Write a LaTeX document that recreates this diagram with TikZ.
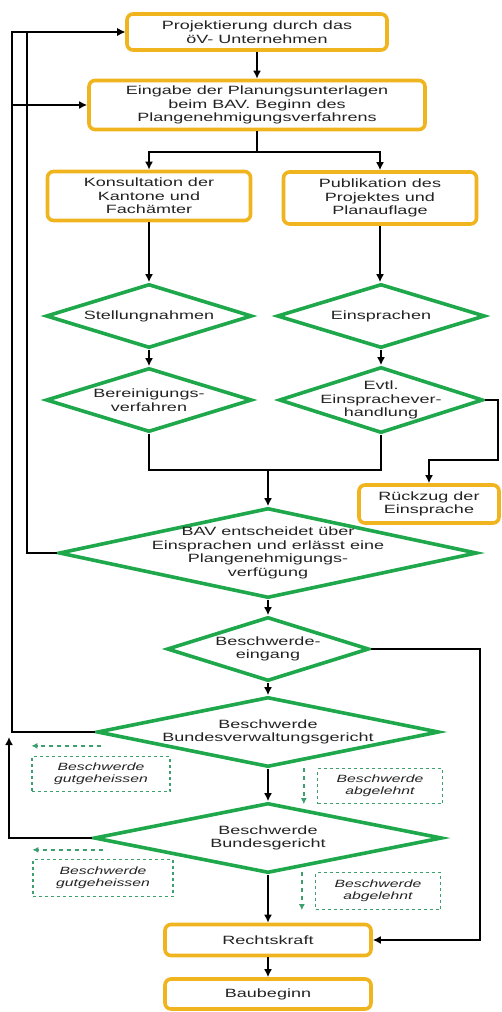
\documentclass[tikz,border=0pt]{standalone}
\usepackage{fontspec}
\setmainfont{Liberation Sans}[FakeStretch=1.5]
\usetikzlibrary{positioning,shapes,arrows,arrows.meta}
\definecolor{boxorange}{RGB}{240,180,30}
\definecolor{decgreen}{RGB}{30,168,75}
\definecolor{notegreen}{RGB}{60,160,110}
\definecolor{txtgray}{RGB}{35,35,35}
\tikzset{
  basic/.style    = {text=txtgray, align=center, font=\fontsize{12}{13.5}\selectfont},
  process/.style  = {basic, rectangle, draw=boxorange, line width=3.6pt,
                     rounded corners=6pt, fill=white},
  decision/.style = {diamond, draw=decgreen, line width=3.6pt, inner sep=0pt},
  dtext/.style    = {basic},
  note/.style     = {basic, draw=notegreen, dash pattern=on 3pt off 3pt,
                     line width=1.3pt, inner sep=0pt,
                     font=\fontsize{10.5}{12.5}\selectfont\itshape},
  line/.style     = {line width=2.2pt},
  flow/.style     = {line, ->},
  back/.style     = {-{Latex[length=6pt,width=6pt]}, notegreen, line width=1.5pt,
                     dash pattern=on 4pt off 4pt}
}
\begin{document}
\begin{tikzpicture}[x=1pt, y=-1pt, >={Latex[length=8pt,width=8pt]}]
\useasboundingbox (0,0) rectangle (501,1012);

% the planning part, boxes
\node[process, minimum width=260, minimum height=36] (proj) at (257,32)
  {Projektierung durch das\\öV- Unternehmen};
\node[process, minimum width=336, minimum height=49] (eing) at (257,105)
  {Eingabe der Planungsunterlagen\\beim BAV. Beginn des\\Plangenehmigungsverfahrens};
\node[process, minimum width=203, minimum height=49] (kons) at (149,196)
  {Konsultation der\\Kantone und\\Fachämter};
\node[process, minimum width=193, minimum height=52] (publ) at (380,198)
  {Publikation des\\Projektes und\\Planauflage};

% the two columns of decisions
\node[decision, minimum width=206, minimum height=64,
  label={[dtext]center:Stellungnahmen}] (stell) at (149,316) {};
\node[decision, minimum width=208, minimum height=64,
  label={[dtext]center:Einsprachen}] (einspr) at (381,316) {};
\node[decision, minimum width=206, minimum height=64,
  label={[dtext]center:{Bereinigungs-\\verfahren}}] (berein) at (149,400) {};
\node[decision, minimum width=204, minimum height=66,
  label={[dtext]center:{Evtl.\\Einsprachever-\\handlung}}] (evtl) at (381,400) {};
\node[process, minimum width=140, minimum height=38] (rueck) at (429,504)
  {Rückzug der\\Einsprache};

% decision of the BAV and the appeals
\node[decision, minimum width=418, minimum height=90,
  label={[dtext]center:{BAV entscheidet über\\Einsprachen und erlässt eine\\Plangenehmigungs-\\verfügung}}] (bav) at (268,553) {};
\node[decision, minimum width=202, minimum height=64,
  label={[dtext]center:{Beschwerde-\\eingang}}] (eingang) at (268,649) {};
\node[decision, minimum width=342, minimum height=70,
  label={[dtext]center:{Beschwerde\\Bundesverwaltungsgericht}}] (bvg) at (268,732) {};
\node[decision, minimum width=348, minimum height=70,
  label={[dtext]center:{Beschwerde\\Bundesgericht}}] (bg) at (268,838) {};
\node[process, minimum width=206, minimum height=31] (recht) at (268,940) {Rechtskraft};
\node[process, minimum width=206, minimum height=30] (bau) at (268,994) {Baubeginn};

% outcomes of the appeals
\node[note, minimum width=138, minimum height=35] (gut1) at (101,774) {Beschwerde\\gutgeheissen};
\node[note, minimum width=125, minimum height=35] (abg1) at (380,786) {Beschwerde\\abgelehnt};
\node[note, minimum width=140, minimum height=37] (gut2) at (103,878) {Beschwerde\\gutgeheissen};
\node[note, minimum width=125, minimum height=37] (abg2) at (378,891) {Beschwerde\\abgelehnt};

% helper points
\coordinate (split) at (257,152);
\coordinate (join) at (268,470);
\coordinate (rk) at (498,460);
\coordinate (top1) at (27,32);
\coordinate (top2) at (12,32);
\coordinate (up) at (9,737);
\coordinate (rr) at (480,940);

% connectors
\draw[flow] (proj) -- (eing);
\draw[line] (eing) -- (split);
\draw[flow] (split) -| (kons);
\draw[flow] (split) -| (publ);
\draw[flow] (kons) -- (stell);
\draw[flow] (publ.south) -- (publ.south |- einspr.north);
\draw[flow] (stell) -- (berein);
\draw[flow] (einspr) -- (evtl);
\draw[line] (berein.south) |- (join) -| (evtl.south);
\draw[flow] (join) -- (bav.north);
\draw[flow] (evtl.east) -| (rk) -| (rueck.north);
\draw[flow] (bav.west) -| (top1) -- (proj.west);
\draw[flow] (bvg.west) -| (top2) -- (proj.west);
\draw[flow] (top2 |- eing.west) -- (eing.west);
\draw[flow] (bg.west) -| (up);
\draw[flow] (bav) -- (eingang);
\draw[flow] (eingang) -- (bvg);
\draw[flow] (eingang.east) -| (rr) -- (recht.east);
\draw[flow] (bvg) -- (bg);
\draw[flow] (bg) -- (recht);
\draw[flow] (recht) -- (bau);

% dashed hints
\draw[back] ([yshift=10]gut1.north) -- ([yshift=10]gut1.north west);
\draw[back] ([xshift=-13]abg1.north west) -- ([xshift=-13]abg1.south west);
\draw[back] ([yshift=9]gut2.north) -- ([yshift=9]gut2.north west);
\draw[back] ([xshift=-13]abg2.north west) -- ([xshift=-13]abg2.south west);
\end{tikzpicture}
\end{document}
